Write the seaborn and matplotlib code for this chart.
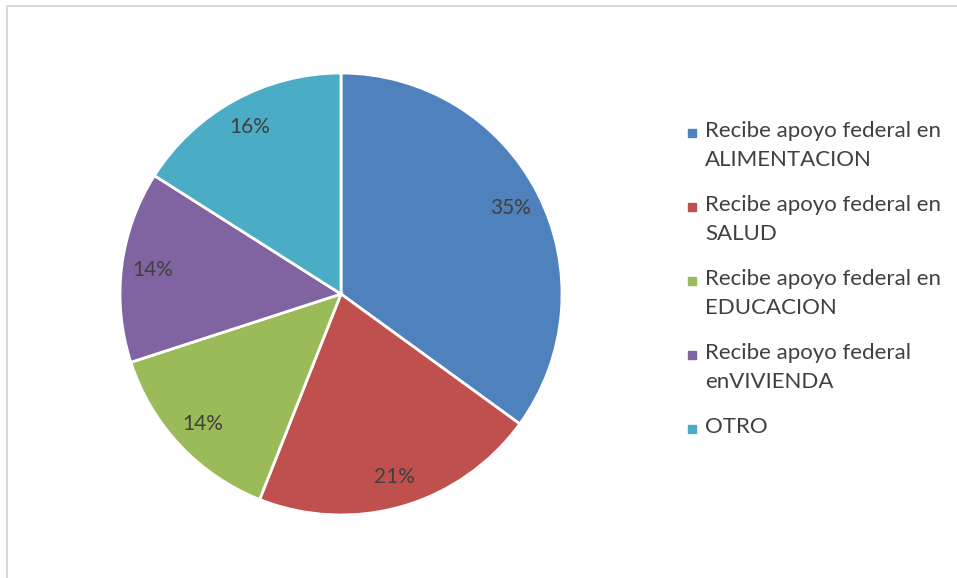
import matplotlib
matplotlib.use("Agg")
import matplotlib.pyplot as plt
import seaborn as sns
from matplotlib.lines import Line2D

# data
categories = [
    "Recibe apoyo federal en\nALIMENTACION",
    "Recibe apoyo federal en\nSALUD",
    "Recibe apoyo federal en\nEDUCACION",
    "Recibe apoyo federal\nenVIVIENDA",
    "OTRO",
]
shares = [35, 21, 14, 14, 16]
colors = ["#4F81BD", "#C0504D", "#9BBB59", "#8064A2", "#4BACC6"]

sns.set_theme(style="white")
plt.rcParams["font.family"] = ["Lato", "DejaVu Sans"]

W, H = 957, 578
fig = plt.figure(figsize=(W / 100, H / 100), dpi=100)

# pie centred at (341, 294) px with radius 221 px
cx, cy, r = 341, 294, 221
ax = fig.add_axes([(cx - r) / W, (H - cy - r) / H, 2 * r / W, 2 * r / H])

wedges, texts, autotexts = ax.pie(
    shares,
    colors=colors,
    startangle=90,
    counterclock=False,
    autopct="%1.0f%%",
    pctdistance=0.86,
    wedgeprops=dict(edgecolor="white", linewidth=2),
    textprops=dict(color="#404040", fontsize=15),
)
ax.set_xlim(-1, 1)
ax.set_ylim(-1, 1)
ax.set_aspect("equal")

# legend drawn by hand so the marker sits on the first text line
for i, (label, c) in enumerate(zip(categories, colors)):
    y = (H - (133 + 74 * i)) / H
    fig.add_artist(Line2D([692 / W], [y], marker="s", linestyle="",
                          markersize=6, markerfacecolor=c, markeredgecolor=c,
                          transform=fig.transFigure))
    fig.text(705 / W, y + 12 / H, label, ha="left", va="top", fontsize=16,
             color="#404040", linespacing=1.55)

# light frame on top and left edges like the reference
fig.add_artist(Line2D([0.007, 1.0], [0.99, 0.99], color="#D9D9D9", lw=1.5,
                      transform=fig.transFigure))
fig.add_artist(Line2D([0.007, 0.007], [0.0, 0.99], color="#D9D9D9", lw=1.5,
                      transform=fig.transFigure))

fig.savefig("out.png", dpi=100, facecolor="white")
